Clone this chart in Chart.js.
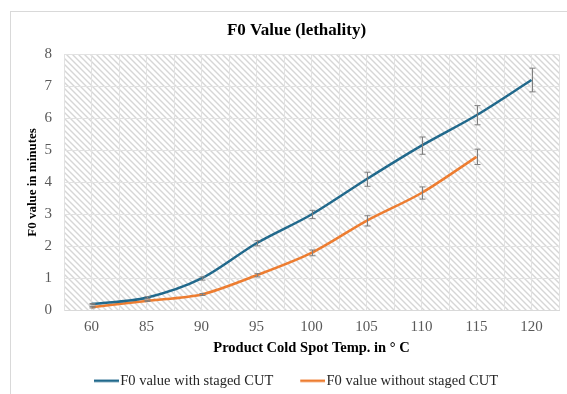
<!DOCTYPE html>
<html>
<head>
<meta charset="utf-8">
<script src="https://cdn.jsdelivr.net/npm/chart.js@4"></script>
<style>
  body { margin: 0; background: #fff; }
  canvas { display: block; }
</style>
</head>
<body>
<canvas id="chart" width="567" height="394"></canvas>
<script>
const temps = ['60', '85', '90', '95', '100', '105', '110', '115', '120'];
const with_cut = [0.2, 0.4, 1.0, 2.1, 3.0, 4.1, 5.15, 6.1, 7.2];
const with_cut_err = [0.02, 0.03, 0.05, 0.08, 0.13, 0.22, 0.27, 0.3, 0.37];
const without_cut = [0.1, 0.3, 0.5, 1.1, 1.8, 2.8, 3.67, 4.8];
const without_cut_err = [0.02, 0.02, 0.03, 0.05, 0.09, 0.16, 0.19, 0.24];
const y_ticks = [0, 1, 2, 3, 4, 5, 6, 7, 8];

const serif = "'Liberation Serif', 'Times New Roman', serif";
const error_bars = [with_cut_err, without_cut_err];

function make_hatch() {
    const s = 6;
    const c = document.createElement('canvas');
    c.width = s;
    c.height = s;
    const g = c.getContext('2d');
    g.fillStyle = '#ffffff';
    g.fillRect(0, 0, s, s);
    g.strokeStyle = '#d6d6d6';
    g.lineWidth = 1.4;
    g.beginPath();
    g.moveTo(-1, -1); g.lineTo(s + 1, s + 1);
    g.moveTo(-1, s - 1); g.lineTo(1, s + 1);
    g.moveTo(s - 1, -1); g.lineTo(s + 1, 1);
    g.stroke();
    return g.createPattern(c, 'repeat');
}

// legend swatch: a short line sitting right against the label text
function legend_line(color) {
    const c = document.createElement('canvas');
    c.width = 30;
    c.height = 4;
    const g = c.getContext('2d');
    g.fillStyle = color;
    g.fillRect(5, 0.75, 25, 2.5);
    return c;
}

const hatch_plugin = {
    id: 'hatch',
    beforeDraw(chart) {
        const ctx = chart.ctx;
        const a = chart.chartArea;
        ctx.save();
        // outer frame
        ctx.strokeStyle = '#d9d9d9';
        ctx.lineWidth = 1;
        ctx.strokeRect(10.5, 11.5, 580, 400);
        ctx.fillStyle = make_hatch();
        ctx.fillRect(a.left, a.top, a.right - a.left, a.bottom - a.top);
        ctx.restore();
    }
};

const error_plugin = {
    id: 'errorbars',
    afterDatasetsDraw(chart) {
        const ctx = chart.ctx;
        const y = chart.scales.y;
        ctx.save();
        ctx.strokeStyle = '#7f7f7f';
        ctx.lineWidth = 1;
        chart.data.datasets.forEach((ds, di) => {
            const meta = chart.getDatasetMeta(di);
            meta.data.forEach((pt, i) => {
                const e = error_bars[di][i];
                const top = y.getPixelForValue(ds.data[i].y + e);
                const bot = y.getPixelForValue(ds.data[i].y - e);
                const x = Math.round(pt.x) + 0.5;
                ctx.beginPath();
                ctx.moveTo(x, top); ctx.lineTo(x, bot);
                ctx.moveTo(x - 3, top); ctx.lineTo(x + 3, top);
                ctx.moveTo(x - 3, bot); ctx.lineTo(x + 3, bot);
                ctx.stroke();
            });
        });
        ctx.restore();
    }
};

// legend padding is also the gap between the two items, so the
// vertical room it adds is taken back with negative paddings below
new Chart(document.getElementById('chart'), {
    type: 'line',
    data: {
        datasets: [{
            label: 'F0 value with staged CUT',
            data: with_cut.map((v, i) => ({x: i, y: v})),
            borderColor: '#21698c',
            backgroundColor: '#21698c',
            borderWidth: 2.5,
            pointRadius: 0,
            pointStyle: legend_line('#21698c'),
            tension: 0.3
        }, {
            label: 'F0 value without staged CUT',
            data: without_cut.map((v, i) => ({x: i, y: v})),
            borderColor: '#ed7d31',
            backgroundColor: '#ed7d31',
            borderWidth: 2.5,
            pointRadius: 0,
            pointStyle: legend_line('#ed7d31'),
            tension: 0.3
        }]
    },
    options: {
        responsive: false,
        animation: false,
        layout: {
            padding: {left: 24, right: -2, top: 11, bottom: -4}
        },
        plugins: {
            title: {
                display: true,
                text: 'F0 Value (lethality)',
                color: '#000',
                font: {family: serif, size: 17, weight: 'bold'},
                padding: {top: 9, bottom: 14}
            },
            legend: {
                position: 'bottom',
                labels: {
                    usePointStyle: true,
                    pointStyleWidth: 18,
                    color: '#262626',
                    font: {family: serif, size: 14.5},
                    padding: 28
                }
            },
            tooltip: {enabled: false}
        },
        scales: {
            x: {
                type: 'linear',
                min: -0.5,
                max: temps.length - 0.5,
                afterFit: s => { s.height = 35; },
                grid: {color: '#e2e2e2', drawTicks: false},
                border: {color: '#d9d9d9'},
                ticks: {
                    stepSize: 0.5,
                    autoSkip: false,
                    maxRotation: 0,
                    padding: 8,
                    color: '#595959',
                    font: {family: serif, size: 15},
                    callback: v => Number.isInteger(v) ? temps[v] : ''
                },
                title: {
                    display: true,
                    text: 'Product Cold Spot Temp. in ° C',
                    color: '#000',
                    font: {family: serif, size: 14.5, weight: 'bold'},
                    padding: {top: 0, bottom: -11}
                }
            },
            y: {
                min: y_ticks[0],
                max: y_ticks[y_ticks.length - 1],
                afterFit: s => { s.width = 40; },
                grid: {color: '#e2e2e2', drawTicks: false},
                border: {color: '#e2e2e2'},
                ticks: {
                    stepSize: 1,
                    padding: 12,
                    color: '#595959',
                    font: {family: serif, size: 15}
                },
                title: {
                    display: true,
                    text: 'F0 value in minutes',
                    color: '#000',
                    font: {family: serif, size: 13, weight: 'bold'},
                    padding: {top: 1, bottom: 0}
                }
            }
        }
    },
    plugins: [hatch_plugin, error_plugin]
});
</script>
</body>
</html>
